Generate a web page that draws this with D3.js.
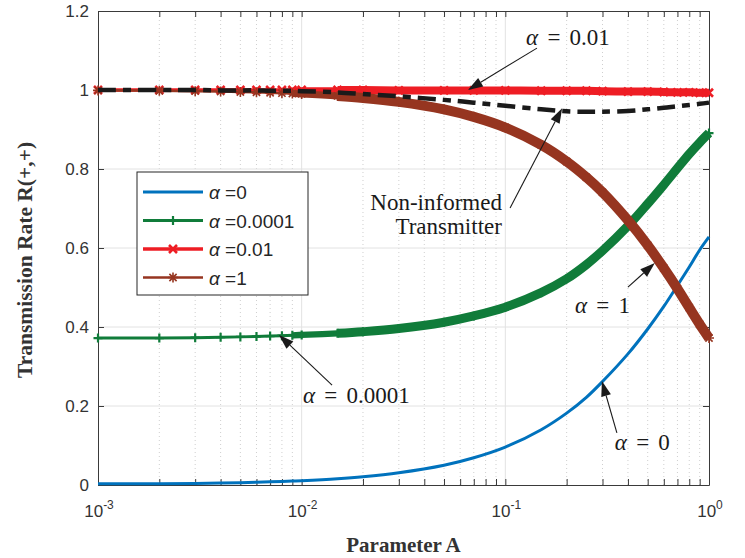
<!DOCTYPE html>
<html>
<head>
<meta charset="utf-8">
<script src="https://cdn.jsdelivr.net/npm/d3@7"></script>
<style>
  body { margin: 0; background: #fff; }
  svg { display: block; }
</style>
</head>
<body>
<div id="chart"></div>
<script>
// values
const paramA = [0.001, 0.002, 0.003, 0.004, 0.005, 0.006, 0.007, 0.008, 0.009, 0.01,
  0.015, 0.02, 0.03, 0.05, 0.07, 0.1, 0.15, 0.2, 0.25, 0.3, 0.4, 0.5, 0.6, 0.7, 0.8, 0.9, 1];
const rateAlpha0 = [0.003, 0.003, 0.004, 0.005, 0.006, 0.007, 0.008, 0.009, 0.01, 0.011,
  0.016, 0.021, 0.031, 0.05, 0.069, 0.096, 0.14, 0.182, 0.222, 0.262, 0.332, 0.395, 0.452, 0.505, 0.552, 0.595, 0.628];
const rateAlpha1e4 = [0.372, 0.372, 0.373, 0.374, 0.375, 0.376, 0.377, 0.378, 0.379, 0.38,
  0.384, 0.388, 0.396, 0.412, 0.428, 0.45, 0.487, 0.522, 0.558, 0.593, 0.656, 0.712, 0.76, 0.802, 0.838, 0.867, 0.891];
const rateAlpha001 = [1, 1, 1, 1, 1, 1, 1, 1, 1, 1,
  1, 1, 0.999, 0.999, 0.999, 0.999, 0.998, 0.998, 0.998, 0.997, 0.996, 0.996, 0.995, 0.994, 0.994, 0.993, 0.993];
const rateAlpha1 = [0.999, 0.998, 0.997, 0.996, 0.995, 0.994, 0.993, 0.992, 0.991, 0.99,
  0.985, 0.98, 0.97, 0.951, 0.932, 0.905, 0.861, 0.819, 0.779, 0.741, 0.67, 0.607, 0.549, 0.497, 0.449, 0.407, 0.372];
const rateNonInformed = [1, 1, 1, 0.999, 0.999, 0.999, 0.998, 0.998, 0.998, 0.997,
  0.994, 0.99, 0.984, 0.975, 0.968, 0.96, 0.951, 0.946, 0.945, 0.945, 0.947, 0.951, 0.955, 0.959, 0.962, 0.965, 0.968];

const legendLabels = ["0", "0.0001", "0.01", "1"];
const yTicks = [0, 0.2, 0.4, 0.6, 0.8, 1, 1.2];
const xTicks = [1e-3, 1e-2, 1e-1, 1];
const xTickExp = ["-3", "-2", "-1", "0"];

// annotations: text position and arrow tail/head in data units
const notes = [
  { lines: ["α = 0.01"], a: 0.203, r: 1.114, anchor: "middle", from: [0.143, 1.106], to: [0.0655, 1.0] },
  { lines: ["α = 0.0001"], a: 0.01015, r: 0.2076, anchor: "start", from: [0.0141, 0.253], to: [0.00774, 0.38] },
  { lines: ["Non-informed", "Transmitter"], a: 0.0962, r: 0.696, anchor: "end", from: [0.1055, 0.701], to: [0.19, 0.954] },
  { lines: ["α = 1"], a: 0.22, r: 0.435, anchor: "start", from: [0.40, 0.501], to: [0.542, 0.562] },
  { lines: ["α = 0"], a: 0.345, r: 0.0886, anchor: "start", from: [0.353, 0.132], to: [0.298, 0.263] }
];

const W = 745, H = 558;
const margin = {top: 11, right: 36, bottom: 73, left: 98};
const width = W - margin.left - margin.right;
const height = H - margin.top - margin.bottom;

const svg = d3.select("#chart").append("svg")
  .attr("width", W).attr("height", H);

const x = d3.scaleLog().domain([1e-3, 1]).range([margin.left, margin.left + width]);
const y = d3.scaleLinear().domain([0, 1.2]).range([margin.top + height, margin.top]);

const minorX = [];
[1e-3, 1e-2, 1e-1].forEach(d => { for (let k = 2; k <= 9; k++) minorX.push(d * k); });

// grid
const grid = svg.append("g");
grid.selectAll(".mx").data(minorX).enter().append("line")
  .attr("x1", d => x(d)).attr("x2", d => x(d))
  .attr("y1", y(0)).attr("y2", y(1.2))
  .attr("stroke", "#cfcfcf").attr("stroke-width", 1).attr("stroke-dasharray", "1,3");
grid.selectAll(".gx").data(xTicks.slice(1, -1)).enter().append("line")
  .attr("x1", d => x(d)).attr("x2", d => x(d))
  .attr("y1", y(0)).attr("y2", y(1.2))
  .attr("stroke", "#e2e2e2").attr("stroke-width", 1);
grid.selectAll(".gy").data(yTicks.slice(1, -1)).enter().append("line")
  .attr("x1", x(1e-3)).attr("x2", x(1))
  .attr("y1", d => y(d)).attr("y2", d => y(d))
  .attr("stroke", "#e2e2e2").attr("stroke-width", 1);

// axes (MATLAB style box, inward ticks)
const axisColor = "#3a3a3a";
const tickLen = 6;
function styleAxis(g) {
  g.selectAll("path").attr("stroke", axisColor);
  g.selectAll("line").attr("stroke", axisColor);
  g.selectAll("text").remove();
}
svg.append("g").attr("transform", `translate(0,${y(0)})`)
  .call(d3.axisBottom(x).tickValues(xTicks.concat(minorX)).tickSize(-tickLen).tickSizeOuter(0)).call(styleAxis);
svg.append("g").attr("transform", `translate(0,${y(1.2)})`)
  .call(d3.axisTop(x).tickValues(xTicks.concat(minorX)).tickSize(-tickLen).tickSizeOuter(0)).call(styleAxis);
svg.append("g").attr("transform", `translate(${x(1e-3)},0)`)
  .call(d3.axisLeft(y).tickValues(yTicks).tickSize(-tickLen).tickSizeOuter(0)).call(styleAxis);
svg.append("g").attr("transform", `translate(${x(1)},0)`)
  .call(d3.axisRight(y).tickValues(yTicks).tickSize(-tickLen).tickSizeOuter(0)).call(styleAxis);

// tick labels
const tickFont = "'Liberation Sans', Arial, sans-serif";
svg.append("g").selectAll("text").data(yTicks).enter().append("text")
  .attr("x", x(1e-3) - 9).attr("y", d => y(d) + 6)
  .attr("text-anchor", "end")
  .style("font-family", tickFont).style("font-size", "17px").attr("fill", "#333")
  .text(d => d3.format("")(d));
const xl = svg.append("g").selectAll("text").data(xTicks).enter().append("text")
  .attr("x", d => x(d) + 1).attr("y", y(0) + 32)
  .attr("text-anchor", "middle")
  .style("font-family", tickFont).style("font-size", "17px").attr("fill", "#333");
xl.append("tspan").text("10");
xl.append("tspan").attr("dy", -8).style("font-size", "12px").text((d, i) => xTickExp[i]);

// axis titles
svg.append("text")
  .attr("x", margin.left + width / 2).attr("y", 552)
  .attr("text-anchor", "middle")
  .style("font-family", "'Liberation Serif', 'Times New Roman', serif")
  .style("font-weight", "bold").style("font-size", "21px").attr("fill", "#333")
  .text("Parameter A");
svg.append("text")
  .attr("transform", "translate(32,260) rotate(-90)")
  .attr("text-anchor", "middle")
  .style("font-family", "'Liberation Serif', 'Times New Roman', serif")
  .style("font-weight", "bold").style("font-size", "21.5px").attr("fill", "#333")
  .text("Transmission Rate R(+,+)");

// markers
function markerPath(type, s) {
  if (type === "plus") return `M${-s},0H${s}M0,${-s}V${s}`;
  if (type === "cross") return `M${-s},${-s}L${s},${s}M${-s},${s}L${s},${-s}`;
  if (type === "star") {
    const c = s * 0.72;
    return `M${-s},0H${s}M0,${-s}V${s}M${-c},${-c}L${c},${c}M${-c},${c}L${c},${-c}`;
  }
  return "";
}

const series = [
  { label: legendLabels[0], values: rateAlpha0, color: "#0072BD", width: 3, marker: null },
  { label: legendLabels[1], values: rateAlpha1e4, color: "#107c3a", width: 3, marker: "plus", ms: 4.5, mw: 2.2, band: 9 },
  { label: legendLabels[2], values: rateAlpha001, color: "#ee1d24", width: 3.5, marker: "cross", ms: 4, mw: 2.6, band: 8 },
  { label: legendLabels[3], values: rateAlpha1, color: "#963520", width: 2.5, marker: "star", ms: 5, mw: 1.6, band: 10 }
];

const line = d3.line()
  .x(d => x(d[0])).y(d => y(d[1]))
  .curve(d3.curveCatmullRom.alpha(0.5));

const plot = svg.append("g");
series.forEach(s => {
  const pts = paramA.map((a, i) => [a, s.values[i]]);
  plot.append("path").datum(pts)
    .attr("d", line).attr("fill", "none")
    .attr("stroke", s.color).attr("stroke-width", s.width);
  if (s.marker) {
    // dense markers merge into a thick band from A = 0.01 onward
    plot.append("path").datum(pts.filter(d => d[0] >= 0.009))
      .attr("d", line).attr("fill", "none")
      .attr("stroke", s.color).attr("stroke-width", s.band * 0.7);
    plot.append("path").datum(pts.filter(d => d[0] >= 0.015))
      .attr("d", line).attr("fill", "none")
      .attr("stroke", s.color).attr("stroke-width", s.band);
    plot.append("g").selectAll("path").data(pts).enter().append("path")
      .attr("transform", d => `translate(${x(d[0])},${y(d[1])})`)
      .attr("d", markerPath(s.marker, s.ms))
      .attr("stroke", s.color).attr("stroke-width", s.mw).attr("fill", "none");
  }
});

// non-informed transmitter, dash-dot
plot.append("path").datum(paramA.map((a, i) => [a, rateNonInformed[i]]))
  .attr("d", line).attr("fill", "none")
  .attr("stroke", "#1a1a1a").attr("stroke-width", 4.5)
  .attr("stroke-dasharray", "18,7,8,7");

// annotations
const noteFont = "'Liberation Serif', 'Times New Roman', serif";
const ann = svg.append("g");
notes.forEach(n => {
  const x0 = x(n.from[0]), y0 = y(n.from[1]);
  const x1 = x(n.to[0]), y1 = y(n.to[1]);
  const ang = Math.atan2(y1 - y0, x1 - x0);
  const hl = 15, hw = 5;
  const bx = x1 - hl * Math.cos(ang), by = y1 - hl * Math.sin(ang);
  ann.append("line")
    .attr("x1", x0).attr("y1", y0).attr("x2", bx).attr("y2", by)
    .attr("stroke", "#1a1a1a").attr("stroke-width", 1.1);
  ann.append("path")
    .attr("d", `M${x1},${y1}L${bx - hw * Math.sin(ang)},${by + hw * Math.cos(ang)}L${bx + hw * Math.sin(ang)},${by - hw * Math.cos(ang)}Z`)
    .attr("fill", "#1a1a1a");
  n.lines.forEach((t, i) => {
    const txt = ann.append("text")
      .attr("x", x(n.a)).attr("y", y(n.r) + i * 24)
      .attr("text-anchor", n.anchor)
      .style("font-family", noteFont).style("font-size", "23px").attr("fill", "#1a1a1a");
    if (t.startsWith("α")) {
      txt.append("tspan").style("font-style", "italic").text("α");
      txt.append("tspan").text(t.slice(1).replace(" = ", "\u2009\u2009=\u2009\u2009"));
    } else {
      txt.text(t);
    }
  });
});

// legend
const lg = svg.append("g").attr("transform", "translate(137,172)");
lg.append("rect").attr("width", 171).attr("height", 123)
  .attr("fill", "#fff").attr("stroke", "#262626").attr("stroke-width", 1);
series.forEach((s, i) => {
  const ry = 20 + i * 28.5;
  lg.append("line").attr("x1", 6).attr("x2", 66).attr("y1", ry).attr("y2", ry)
    .attr("stroke", s.color).attr("stroke-width", s.width);
  if (s.marker) {
    lg.append("path").attr("transform", `translate(36,${ry})`)
      .attr("d", markerPath(s.marker, s.ms))
      .attr("stroke", s.color).attr("stroke-width", s.mw).attr("fill", "none");
  }
  const t = lg.append("text").attr("x", 72).attr("y", ry + 7)
    .style("font-family", tickFont).style("font-size", "19px").attr("fill", "#262626");
  t.append("tspan").style("font-style", "italic").text("α");
  t.append("tspan").text(" =" + s.label);
});
</script>
</body>
</html>
